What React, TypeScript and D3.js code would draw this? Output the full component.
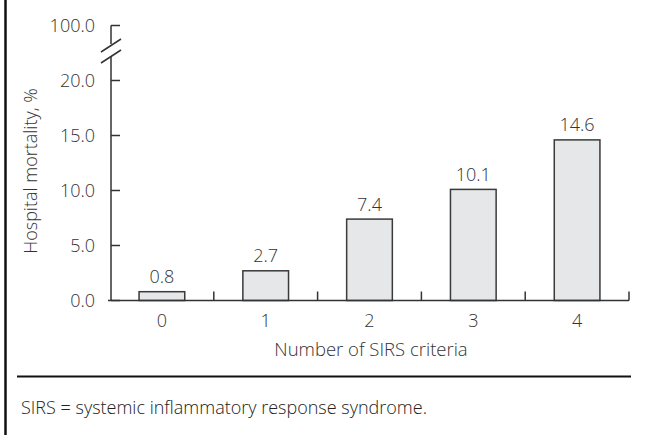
import React, { useRef, useEffect } from "react";
import * as d3 from "d3";

const WIDTH = 645;
const HEIGHT = 435;

const categories = ["0", "1", "2", "3", "4"];
const mortality = [0.8, 2.7, 7.4, 10.1, 14.6];
const yTicks = [0, 5, 10, 15, 20, 100];

const TEXT = "#333";
const FONT = "'Open Sans', 'Noto Sans', sans-serif";
const FS = 18;

export default function App() {
  const svgRef = useRef<SVGSVGElement | null>(null);

  useEffect(() => {
    const svg = d3.select(svgRef.current);
    svg.selectAll("*").remove();

    const x = d3
      .scaleBand<string>()
      .domain(categories)
      .range([110, 629])
      .paddingInner(0.56)
      .paddingOuter(0.28);
    const step = x.step();

    // broken axis: 0-20 linear, then compressed up to 100
    const y = d3.scaleLinear().domain([0, 20, 100]).range([300.5, 80.5, 25.5]);

    // frame lines
    svg
      .append("line")
      .attr("x1", 5.5)
      .attr("x2", 5.5)
      .attr("y1", 0)
      .attr("y2", HEIGHT)
      .attr("stroke", "#111")
      .attr("stroke-width", 2.5);
    svg
      .append("line")
      .attr("x1", 17)
      .attr("x2", 631)
      .attr("y1", 376.5)
      .attr("y2", 376.5)
      .attr("stroke", "#111")
      .attr("stroke-width", 2);

    // bars
    svg
      .selectAll("rect.bar")
      .data(mortality)
      .enter()
      .append("rect")
      .attr("class", "bar")
      .attr("x", (_, i) => x(categories[i])!)
      .attr("y", (d) => y(d))
      .attr("width", x.bandwidth())
      .attr("height", (d) => y(0) - y(d))
      .attr("fill", "#e6e7e9")
      .attr("stroke", "#3a3a3a")
      .attr("stroke-width", 1.5);

    // value labels
    svg
      .selectAll("text.val")
      .data(mortality)
      .enter()
      .append("text")
      .attr("class", "val")
      .attr("x", (_, i) => x(categories[i])! + x.bandwidth() / 2)
      .attr("y", (d) => y(d) - 8.5)
      .attr("text-anchor", "middle")
      .attr("font-size", FS)
      .attr("fill", TEXT)
      .text((d) => d.toFixed(1));

    const axis = svg.append("g").attr("stroke", "#333").attr("stroke-width", 1.5);

    // y axis line (with gap at the break)
    axis
      .append("line")
      .attr("x1", 111)
      .attr("x2", 111)
      .attr("y1", y(100))
      .attr("y2", 44);
    axis
      .append("line")
      .attr("x1", 111)
      .attr("x2", 111)
      .attr("y1", 56)
      .attr("y2", y(0));
    // break marks
    [0, 11].forEach((off) => {
      axis
        .append("line")
        .attr("x1", 101)
        .attr("x2", 121)
        .attr("y1", 52 + off)
        .attr("y2", 39 + off);
    });

    // y ticks (inward)
    axis
      .selectAll("line.ytick")
      .data(yTicks)
      .enter()
      .append("line")
      .attr("class", "ytick")
      .attr("x1", 111)
      .attr("x2", 120)
      .attr("y1", (d) => y(d))
      .attr("y2", (d) => y(d));

    svg
      .selectAll("text.ylab")
      .data(yTicks)
      .enter()
      .append("text")
      .attr("class", "ylab")
      .attr("x", 95)
      .attr("y", (d) => y(d) + 6.5)
      .attr("text-anchor", "end")
      .attr("font-size", FS)
      .attr("fill", TEXT)
      .text((d) => d.toFixed(1));

    // x axis
    axis
      .append("line")
      .attr("x1", 108)
      .attr("x2", 629)
      .attr("y1", y(0))
      .attr("y2", y(0));
    axis
      .selectAll("line.xtick")
      .data(categories)
      .enter()
      .append("line")
      .attr("class", "xtick")
      .attr("x1", (_, i) => 110 + (i + 1) * step)
      .attr("x2", (_, i) => 110 + (i + 1) * step)
      .attr("y1", y(0))
      .attr("y2", y(0) - 9);

    svg
      .selectAll("text.xlab")
      .data(categories)
      .enter()
      .append("text")
      .attr("class", "xlab")
      .attr("x", (d) => x(d)! + x.bandwidth() / 2)
      .attr("y", 327)
      .attr("text-anchor", "middle")
      .attr("font-size", FS)
      .attr("fill", TEXT)
      .text((d) => d);

    // axis titles
    svg
      .append("text")
      .attr("x", 371)
      .attr("y", 356)
      .attr("text-anchor", "middle")
      .attr("font-size", 18.5)
      .attr("fill", TEXT)
      .text("Number of SIRS criteria");
    svg
      .append("text")
      .attr("transform", "translate(37,171) rotate(-90)")
      .attr("text-anchor", "middle")
      .attr("font-size", 18)
      .attr("fill", TEXT)
      .text("Hospital mortality, %");

    // footnote
    svg
      .append("text")
      .attr("x", 21)
      .attr("y", 414)
      .attr("font-size", FS)
      .attr("fill", "#222")
      .text("SIRS = systemic inflammatory response syndrome.");
  }, []);

  return (
    <svg
      ref={svgRef}
      width={WIDTH}
      height={HEIGHT}
      style={{
        position: "absolute",
        left: 0,
        top: 0,
        background: "#fff",
        fontFamily: FONT,
        fontWeight: 300,
      }}
    />
  );
}
